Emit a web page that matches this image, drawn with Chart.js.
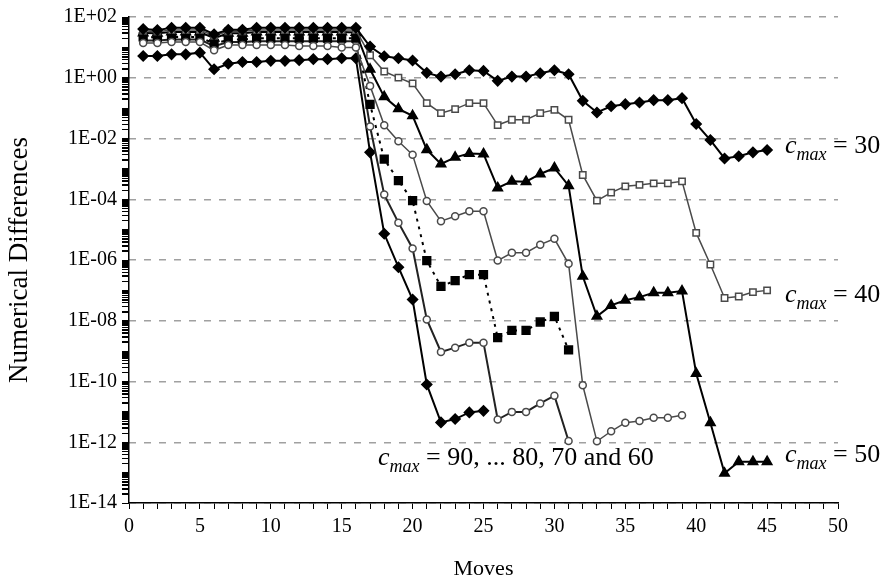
<!DOCTYPE html>
<html>
<head>
<meta charset="utf-8">
<script src="https://cdn.jsdelivr.net/npm/chart.js@4.4.1/dist/chart.umd.min.js"></script>
<style>
  body { margin: 0; background: #fff; }
  #wrap { width: 884px; height: 584px; }
</style>
</head>
<body>
<div id="wrap"><canvas id="diffChart"></canvas></div>
<script>
// values, x = move number starting at 1
const cmax30 = [40, 37, 44, 44, 44, 27, 38, 38, 44, 44, 44, 44, 44, 44, 44, 44,
  10.6, 5.1, 4.4, 3.7, 1.45, 1.09, 1.31, 1.77, 1.68, 0.79, 1.09, 1.09, 1.41, 1.77, 1.31,
  0.174, 0.072, 0.115, 0.135, 0.153, 0.183, 0.183, 0.213, 0.030, 0.0089, 0.0022, 0.0026, 0.0035, 0.0042];
const cmax40 = [35, 33, 37, 37, 37, 24, 34, 34, 37, 37, 37, 37, 37, 37, 37, 37,
  5.5, 1.6, 1.01, 0.65, 0.146, 0.0686, 0.093, 0.146, 0.146, 0.0277, 0.0413, 0.0413, 0.0686, 0.088, 0.0413,
  6.3e-4, 9.0e-5, 1.65e-4, 2.66e-4, 2.96e-4, 3.34e-4, 3.34e-4, 3.88e-4, 7.8e-6, 7.1e-7, 5.6e-8, 6.3e-8, 8.8e-8, 1.0e-7];
const cmax50 = [30, 29, 32, 32, 32, 20, 29, 29, 32, 32, 32, 32, 32, 32, 32, 31,
  1.9, 0.235, 0.095, 0.056, 4.3e-3, 1.45e-3, 2.4e-3, 3.2e-3, 3.1e-3, 2.36e-4, 3.9e-4, 3.8e-4, 6.8e-4, 1.07e-3, 2.8e-4,
  2.9e-7, 1.4e-8, 3.2e-8, 4.7e-8, 6.0e-8, 8.4e-8, 8.4e-8, 9.5e-8, 1.83e-10, 4.4e-12, 9.5e-14, 2.3e-13, 2.3e-13, 2.3e-13];
const cmax60 = [14, 14, 15, 15, 15, 8, 12, 12, 12, 12, 12, 11, 11, 11, 10, 10,
  0.54, 0.0273, 8.1e-3, 2.9e-3, 8.8e-5, 1.9e-5, 2.75e-5, 4.0e-5, 4.0e-5, 9.6e-7, 1.73e-6, 1.73e-6, 3.2e-6, 5.0e-6, 7.5e-7,
  7.5e-11, 1.07e-12, 2.3e-12, 4.4e-12, 5.0e-12, 6.4e-12, 6.4e-12, 7.8e-12];
const cmax70 = [22, 21, 22, 22, 22, 13, 18, 18, 20, 20, 20, 20, 20, 20, 20, 20,
  0.133, 2.1e-3, 4.1e-4, 9.0e-5, 9.6e-7, 1.35e-7, 2.1e-7, 3.3e-7, 3.3e-7, 2.8e-9, 4.8e-9, 4.8e-9, 9.1e-9, 1.4e-8, 1.1e-9];
const cmax80 = [17, 17, 18, 18, 18, 11, 15, 15, 16, 16, 16, 16, 16, 16, 16, 16,
  0.0247, 1.42e-4, 1.7e-5, 2.4e-6, 1.1e-8, 9.4e-10, 1.3e-9, 1.9e-9, 1.9e-9, 5.6e-12, 1.0e-11, 1.0e-11, 1.9e-11, 3.4e-11, 1.1e-12];
const cmax90 = [5.2, 5.2, 5.9, 5.9, 6.7, 1.9, 2.9, 3.3, 3.3, 3.6, 3.6, 3.8, 4.1, 4.1, 4.4, 4.4,
  3.5e-3, 7.3e-6, 5.8e-7, 5.0e-8, 8.0e-11, 4.5e-12, 5.8e-12, 9.6e-12, 1.08e-11];

const xTickLabels = ["0", "5", "10", "15", "20", "25", "30", "35", "40", "45", "50"];
const yTickLabels = ["1E+02", "1E+00", "1E-02", "1E-04", "1E-06", "1E-08", "1E-10", "1E-12", "1E-14"];

const FONT = "'Liberation Serif', 'Times New Roman', serif";
const GREY = "#4a4a4a";

function pts(arr) {
  return arr.map((v, i) => ({ x: i + 1, y: v }));
}

function labelFor(v) {
  const e = Math.round(Math.log10(v));
  if (Math.abs(v / Math.pow(10, e) - 1) > 1e-6) return null;
  const s = "1E" + (e < 0 ? "-" : "+") + String(Math.abs(e)).padStart(2, "0");
  return yTickLabels.includes(s) ? s : null;
}

// every 1..9 x 10^e between the axis limits (minor ticks)
function logTicks(s) {
  const t = [];
  for (let e = -14; e <= 2; e++) {
    for (let m = 1; m <= 9; m++) {
      if (e === 2 && m > 1) break;
      t.push({ value: m * Math.pow(10, e) });
    }
  }
  s.ticks = t;
}

// minor tick marks on the log axis, placed through the y scale
const yMarks = {
  id: "yMarks",
  afterDraw(chart) {
    const y = chart.scales.y;
    const ctx = chart.ctx;
    ctx.save();
    ctx.strokeStyle = "#000";
    ctx.lineWidth = 1;
    ctx.beginPath();
    y.ticks.forEach(t => {
      const py = Math.round(y.getPixelForValue(t.value)) + 0.5;
      ctx.moveTo(y.right - 7, py);
      ctx.lineTo(y.right, py);
    });
    ctx.stroke();
    ctx.restore();
  }
};

// c_max annotations
const notes = {
  id: "notes",
  afterDraw(chart) {
    const ctx = chart.ctx;
    const put = (x, y, rest) => {
      ctx.save();
      ctx.fillStyle = "#000";
      ctx.textBaseline = "alphabetic";
      ctx.font = "italic 26px " + FONT;
      ctx.fillText("c", x, y);
      let w = ctx.measureText("c").width;
      ctx.font = "italic 18px " + FONT;
      ctx.fillText("max", x + w, y + 7);
      w += ctx.measureText("max").width;
      ctx.font = "26px " + FONT;
      ctx.fillText(rest, x + w, y);
      ctx.restore();
    };
    put(785, 153, " = 30");
    put(785, 302, " = 40");
    put(785, 462, " = 50");
    put(378, 465, " = 90, ... 80, 70 and 60");
  }
};

const ds = (label, data, style) => Object.assign({
  label: label,
  data: pts(data),
  borderWidth: 2,
  pointBorderWidth: 1.5,
  tension: 0
}, style);

const datasets = [
  ds("c30", cmax30, { borderColor: "#000", pointStyle: "rectRot", pointRadius: 5, pointBackgroundColor: "#000", pointBorderColor: "#000" }),
  ds("c40", cmax40, { borderColor: GREY, borderWidth: 1.5, pointStyle: "rect", pointRadius: 4.5, pointBackgroundColor: "#fff", pointBorderColor: GREY }),
  ds("c50", cmax50, { borderColor: "#000", pointStyle: "triangle", pointRadius: 5.5, pointBackgroundColor: "#000", pointBorderColor: "#000" }),
  ds("c60", cmax60, { borderColor: GREY, borderWidth: 1.5, pointStyle: "circle", pointRadius: 3.5, pointBackgroundColor: "#fff", pointBorderColor: GREY }),
  ds("c70", cmax70, { borderColor: "#000", borderDash: [3, 5], pointStyle: "rect", pointRadius: 5.5, pointBackgroundColor: "#000", pointBorderColor: "#000" }),
  ds("c80", cmax80, { borderColor: "#222", pointStyle: "circle", pointRadius: 3.5, pointBackgroundColor: "#fff", pointBorderColor: GREY }),
  ds("c90", cmax90, { borderColor: "#000", pointStyle: "rectRot", pointRadius: 5, pointBackgroundColor: "#000", pointBorderColor: "#000" })
];

const ctx = document.getElementById("diffChart").getContext("2d");
window.diffChart = new Chart(ctx, {
  type: "line",
  data: { datasets: datasets },
  plugins: [yMarks, notes],
  options: {
    responsive: true,
    maintainAspectRatio: false,
    animation: false,
    layout: { padding: { top: 16.5, right: 46, left: 0, bottom: 0 } },
    plugins: { legend: { display: false }, tooltip: { enabled: false } },
    scales: {
      x: {
        type: "linear",
        min: 0,
        max: 50,
        afterFit: s => { s.height = 81; },
        border: { color: "#000", width: 1.5 },
        grid: { drawOnChartArea: false, tickLength: 6, color: "#000", tickWidth: 1 },
        ticks: {
          stepSize: 1,
          autoSkip: false,
          maxRotation: 0,
          color: "#000",
          padding: 6,
          font: { family: FONT, size: 20 },
          callback: v => (v % 5 === 0 ? xTickLabels[v / 5] : "")
        },
        title: { display: true, text: "Moves", color: "#000", font: { family: FONT, size: 22 }, padding: { top: 0, bottom: 2 } }
      },
      y: {
        type: "logarithmic",
        position: "left",
        min: 1e-14,
        max: 1e2,
        afterFit: s => { s.width = 129; },
        afterBuildTicks: logTicks,
        border: { color: "#000", width: 1.5 },
        grid: { drawOnChartArea: false, color: "#000", tickColor: "#000", tickWidth: 1, tickLength: 7 },
        ticks: {
          autoSkip: false,
          color: "#000",
          padding: 5,
          font: { family: FONT, size: 20 },
          callback: v => labelFor(v) || ""
        },
        title: { display: true, text: "Numerical Differences", color: "#000", font: { family: FONT, size: 27 }, padding: { top: 4, bottom: 0 } }
      },
      // dashed gridlines every two decades
      yGrid: {
        type: "logarithmic",
        position: "right",
        min: 1e-14,
        max: 1e2,
        afterFit: s => { s.width = 0; },
        afterBuildTicks: s => {
          s.ticks = yTickLabels.map(l => ({ value: Number(l) }));
        },
        border: { display: false, dash: [7, 8] },
        grid: { color: "#a0a0a0", lineWidth: 1.5, drawTicks: false },
        ticks: { display: false }
      }
    }
  }
});
</script>
</body>
</html>
